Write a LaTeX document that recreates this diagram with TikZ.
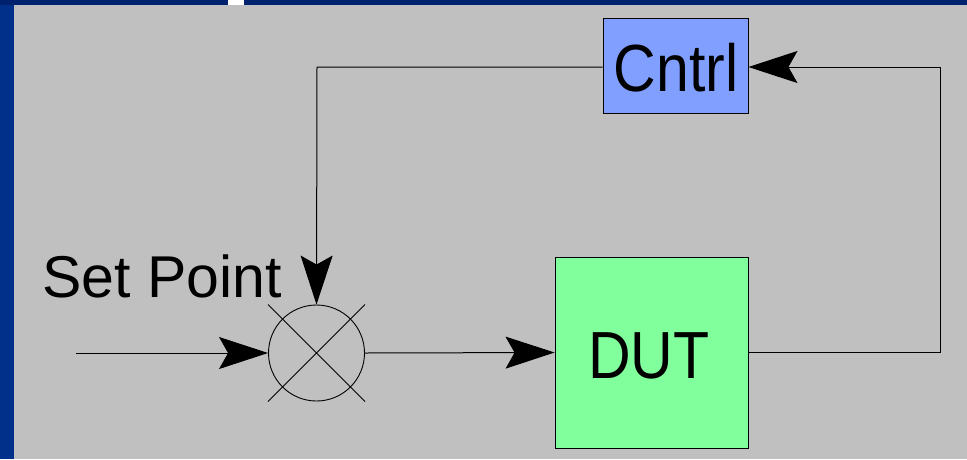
\documentclass[tikz,border=0pt]{standalone}
\usepackage{fontspec}
\setmainfont{Liberation Sans}
\usetikzlibrary{arrows.meta}
\definecolor{bg}{HTML}{C0C0C0}
\definecolor{frameleft}{HTML}{00308A}
\definecolor{frametop}{HTML}{00216E}
\definecolor{cntrlfill}{HTML}{809FFF}
\definecolor{dutfill}{HTML}{80FF9C}
\tikzset{
  blockbox/.style={draw=black, line width=0.9pt, rectangle, inner sep=0pt},
  bigtext/.style={inner sep=0pt, anchor=base, font=\fontsize{59}{59}\selectfont},
  conn/.style={draw=black, line width=1pt},
  bigarrow/.style={conn, -{Stealth[length=49pt, width=32pt, inset=9pt]}},
}
\begin{document}
\begin{tikzpicture}[x=1pt, y=-1pt]
\useasboundingbox (0,0) rectangle (967,459);
\fill[bg] (0,0) rectangle (967,459);
\fill[frameleft] (0,0) rectangle (14,459);
\fill[frametop] (0,0) rectangle (967,5);
\fill[white] (228,0) rectangle (244,5);

% blocks
\node[blockbox, fill=cntrlfill, minimum width=145pt, minimum height=95pt] (cntrl) at (675.5,65.5) {};
\node[bigtext] (cntrltext) at (676,91) {\scalebox{1}[1.13]{Cntrl}};
\node[blockbox, fill=dutfill, minimum width=193pt, minimum height=191pt] (dut) at (651.5,352.5) {};
\node[bigtext] (duttext) at (649,378) {\scalebox{1}[1.13]{DUT}};
\node[bigtext, anchor=base west] (setpoint) at (42,297) {Set Point};

% summing junction
\node[draw=black, line width=0.9pt, circle, minimum size=96pt, inner sep=0pt] (sum) at (316.5,353) {};
\draw[line width=0.9pt] ([shift={(-48.5,-48.5)}]sum.center) -- ([shift={(48.5,48.5)}]sum.center);
\draw[line width=0.9pt] ([shift={(48.5,-48.5)}]sum.center) -- ([shift={(-48.5,48.5)}]sum.center);

% connectors
\coordinate (in) at (76,353);
\coordinate (rc) at (940,67);
\coordinate (lc) at (317,67);
\draw[bigarrow] (in) -- (sum.west);
\draw[bigarrow] (sum.east) -- (dut.west);
\draw[bigarrow] (dut.east) -| (rc) -- (cntrl.east |- rc);
\draw[bigarrow] (cntrl.west |- lc) -- (lc) -- (sum.north);
\end{tikzpicture}
\end{document}
